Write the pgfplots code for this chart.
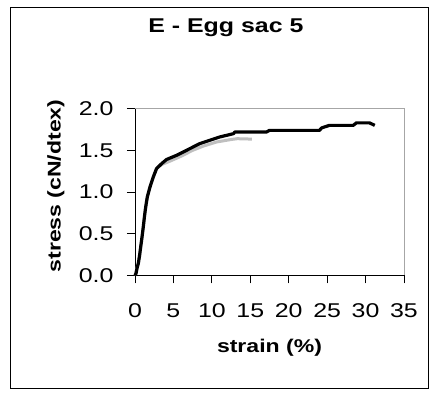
\documentclass[border=0pt]{standalone}
\usepackage{fontspec}
\setmainfont{Liberation Sans}[FakeStretch=1.25]
\usepackage{pgfplots}
\pgfplotsset{compat=1.18}

\begin{document}
\begin{tikzpicture}[x=1bp,y=1bp]
% page and chart frame
\path (-135,-125.7) rectangle (297,275.3);
\draw[black, line width=0.8bp] (-124.3,-112.7) rectangle (293,268.3);
\begin{axis}[
  at={(0,0)}, anchor=south west,
  scale only axis, width=269bp, height=166.6bp,
  xmin=0, xmax=35, ymin=0, ymax=2,
  axis lines=left,
  axis line style={-, black, line width=0.8bp},
  xtick={0,5,...,35}, ytick={0,0.5,...,2},
  tick align=outside, major tick length=8bp,
  tick style={black, line width=0.8bp},
  /pgf/number format/assume math mode=true,
  yticklabel style={/pgf/number format/.cd, fixed, fixed zerofill, precision=1, /tikz/.cd,
    font=\fontsize{20}{24}\selectfont, xshift=-10bp},
  xticklabel style={font=\fontsize{20}{24}\selectfont, yshift=-17bp},
  title={E - Egg sac 5},
  title style={font=\bfseries\fontsize{20}{24}\selectfont, at={(axis description cs:0.338,1.42)}, anchor=base},
  xlabel={strain (\%)},
  xlabel style={font=\bfseries\fontsize{18.5}{22}\selectfont, at={(axis description cs:0.5,-0.436)}, anchor=center},
  ylabel={stress (cN/dtex)},
  ylabel style={font=\bfseries\fontsize{18.5}{22}\selectfont, at={(axis description cs:-0.294,0.536)}, anchor=center},
  clip=false,
]
% frame on the top and right of the plot area
\draw[gray!70, line width=0.8bp] (rel axis cs:0,1) -- (rel axis cs:1,1) -- (rel axis cs:1,0);
% second specimen (grey)
\addplot[color=black!25, line width=3bp, line join=round] coordinates {
(0,0) (0.3,0.10) (0.6,0.24) (0.9,0.45) (1.25,0.72) (1.6,0.94) (1.95,1.06)
(2.38,1.18) (2.8,1.28) (3.46,1.33) (4.55,1.37) (6.0,1.43) (7.5,1.50)
(8.85,1.55) (10.6,1.60) (12.5,1.63) (13.3,1.64) (15.2,1.635)
};
% first specimen (black)
\addplot[color=black, line width=3.2bp, line join=round] coordinates {
(0,0) (0.13,0.02) (0.3,0.10) (0.43,0.14) (0.6,0.24) (0.74,0.34) (0.9,0.45)
(1.08,0.58) (1.25,0.72) (1.39,0.82) (1.6,0.94) (1.95,1.06) (2.38,1.18)
(2.8,1.28) (3.46,1.34) (4.1,1.39) (5.4,1.44) (6.7,1.50) (8.4,1.58)
(9.7,1.62) (11.0,1.66) (12.8,1.70) (13.0,1.72) (17.1,1.72) (17.5,1.74)
(24.0,1.74) (24.3,1.77) (25.3,1.80) (28.4,1.80) (28.8,1.83) (30.5,1.83)
(31.2,1.80)
};
\end{axis}
\end{tikzpicture}
\end{document}
